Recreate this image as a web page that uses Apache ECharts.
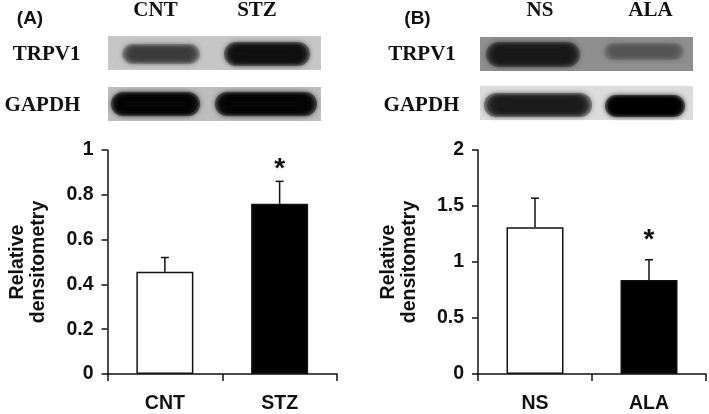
<!DOCTYPE html>
<html><head><meta charset="utf-8">
<script src="https://cdn.jsdelivr.net/npm/echarts@6/dist/echarts.min.js"></script>
<style>html,body{margin:0;padding:0;background:#fff}#c{width:709px;height:414px}</style>
</head><body><div id="c"></div><script>
// ---- data ----
const catsA = ['CNT', 'STZ'];
const meanA = [0.456, 0.76];
const errA  = [0.064, 0.10];
const starA = [null, 0.94];
const yTicksA = [0, 0.2, 0.4, 0.6, 0.8, 1];

const catsB = ['NS', 'ALA'];
const meanB = [1.31, 0.84];
const errB  = [0.26, 0.18];
const starB = [null, 1.25];
const yTicksB = [0, 0.5, 1, 1.5, 2];

const blotRows = ['TRPV1', 'GAPDH'];
const yTitle = 'Relative\ndensitometry';

// ---- styles ----
const SANS = 'Liberation Sans';
const SERIF = 'Liberation Serif';
const barFill = ['#ffffff', '#000000'];

function yAxis(grid, ticks) {
  return {
    type: 'value', gridIndex: grid,
    min: ticks[0], max: ticks[ticks.length - 1], interval: ticks[1] - ticks[0],
    name: yTitle, nameLocation: 'middle', nameGap: 58, nameRotate: 90,
    nameTextStyle: { fontFamily: SANS, fontWeight: 'bold', fontSize: 19.5, color: '#111', lineHeight: 21 },
    axisLine: { show: true, lineStyle: { color: '#111', width: 1.5 } },
    axisTick: { show: true, length: 6, lineStyle: { color: '#111', width: 1.5 } },
    axisLabel: { fontFamily: SANS, fontWeight: 'bold', fontSize: 19.5, color: '#111', margin: 14 },
    splitLine: { show: false }
  };
}
function xAxis(grid, cats) {
  return {
    type: 'category', gridIndex: grid, data: cats,
    axisLine: { show: true, lineStyle: { color: '#111', width: 1.5 } },
    axisTick: { show: true, length: 7, lineStyle: { color: '#111', width: 1.5 } },
    axisLabel: { fontFamily: SANS, fontWeight: 'bold', fontSize: 19.5, color: '#111', margin: 20 }
  };
}
function barSeries(idx, means) {
  return {
    type: 'bar', xAxisIndex: idx, yAxisIndex: idx, barWidth: 57,
    data: means.map((v, i) => ({ value: v, itemStyle: { color: barFill[i] } })),
    itemStyle: { borderColor: '#111', borderWidth: 1.5 },
    silent: true, z: 2
  };
}
function errSeries(idx, means, errs) {
  return {
    type: 'custom', xAxisIndex: idx, yAxisIndex: idx, z: 3, silent: true,
    data: means.map((m, i) => [i, m, errs[i]]),
    renderItem: function (params, api) {
      const x = api.value(0), m = api.value(1), e = api.value(2);
      const p0 = api.coord([x, m]), p1 = api.coord([x, m + e]);
      const st = { stroke: '#111', lineWidth: 1.5 };
      return { type: 'group', children: [
        { type: 'line', shape: { x1: p0[0], y1: p0[1], x2: p1[0], y2: p1[1] }, style: st },
        { type: 'line', shape: { x1: p1[0] - 4, y1: p1[1], x2: p1[0] + 4, y2: p1[1] }, style: st }
      ] };
    }
  };
}
function starSeries(idx, stars) {
  return {
    type: 'custom', xAxisIndex: idx, yAxisIndex: idx, z: 3, silent: true,
    data: stars.map((s, i) => [i, s]).filter(d => d[1] !== null),
    renderItem: function (params, api) {
      const p = api.coord([api.value(0), api.value(1)]);
      return { type: 'text', x: p[0], y: p[1] + 6,
        style: { text: '*', font: 'bold 28px ' + SANS, fill: '#111', align: 'center', verticalAlign: 'middle' } };
    }
  };
}

// ---- blot decoration (images in the original) ----
function band(x, y, w, h, color, alpha) {
  // stacked translucent rounded rects give a soft, dark-centred band
  const out = [];
  const n = 6;
  for (let k = 0; k < n; k++) {
    const dy = k * h * 0.07, dx = k * w * 0.03;
    const hh = h - 2 * dy;
    out.push({ type: 'rect', silent: true, z: 1,
      shape: { x: x + dx, y: y + dy, width: w - 2 * dx, height: hh, r: hh / 2 },
      style: { fill: color, opacity: alpha, shadowBlur: 5, shadowColor: color } });
  }
  return out;
}
function bg(x, y, w, h, color) {
  return { type: 'rect', shape: { x: x, y: y, width: w, height: h }, style: { fill: color }, silent: true, z: 0 };
}
function txt(t, x, y, font) {
  return { type: 'text', x: x, y: y, silent: true, z: 2,
    style: { text: t, font: font, fill: '#111', align: 'center', verticalAlign: 'middle' } };
}
const serifFont = 'bold 21px ' + SERIF;
const sansFont = 'bold 19px ' + SANS;
const graphics = [].concat(
  // panel A
  txt('(A)', 30, 19, sansFont),
  txt(catsA[0], 155.5, 11, serifFont), txt(catsA[1], 257, 11, serifFont),
  txt(blotRows[0], 46.7, 55, serifFont), txt(blotRows[1], 42.5, 106, serifFont),
  bg(108, 36, 213, 34, '#c6c6c6'),
  band(122, 44, 78, 20, '#3a3a3a', 0.32), band(224, 42, 86, 24, '#101010', 0.42),
  bg(108, 87, 213, 34, '#bdbdbd'),
  band(111, 92, 89, 24, '#050505', 0.5), band(215, 92, 102, 24, '#050505', 0.5),
  // panel B
  txt('(B)', 417.5, 19, sansFont),
  txt(catsB[0], 540, 11, serifFont), txt(catsB[1], 650.5, 11, serifFont),
  txt(blotRows[0], 422, 55, serifFont), txt(blotRows[1], 421.5, 106, serifFont),
  bg(480, 37, 213, 34, '#8f8f8f'),
  band(486, 42, 94, 25, '#1a1a1a', 0.4), band(604, 43, 80, 17, '#555555', 0.25),
  bg(480, 86, 213, 34, '#dcdcdc'),
  band(484, 93, 108, 24, '#1c1c1c', 0.4), band(605, 95, 80, 22, '#000000', 0.5)
);

const chart = echarts.init(document.getElementById('c'), null, { renderer: 'canvas' });
chart.setOption({
  animation: false,
  backgroundColor: '#ffffff',
  grid: [
    { left: 107.5, right: 372, top: 150, bottom: 38.5 },
    { left: 478, right: 3, top: 150, bottom: 38 }
  ],
  xAxis: [xAxis(0, catsA), xAxis(1, catsB)],
  yAxis: [yAxis(0, yTicksA), yAxis(1, yTicksB)],
  series: [
    barSeries(0, meanA), errSeries(0, meanA, errA), starSeries(0, starA),
    barSeries(1, meanB), errSeries(1, meanB, errB), starSeries(1, starB)
  ],
  graphic: graphics
});
</script></body></html>
